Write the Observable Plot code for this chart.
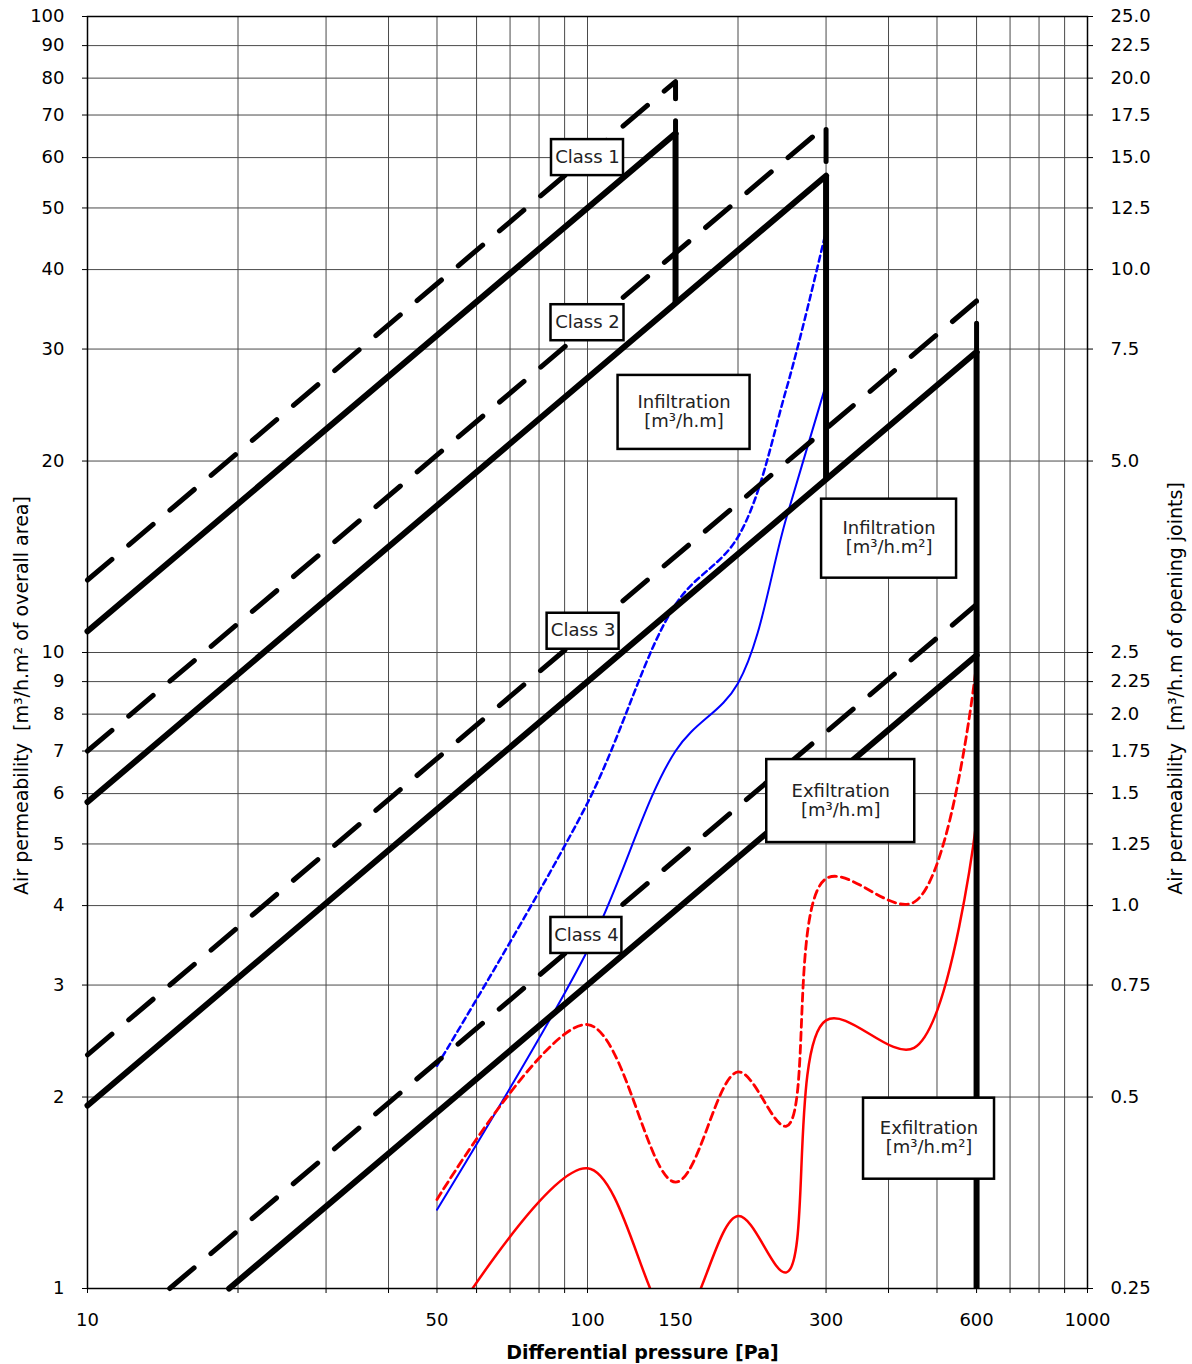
<!DOCTYPE html>
<html>
<head>
<meta charset="utf-8">
<script src="https://cdn.jsdelivr.net/npm/d3@7"></script>
<script src="https://cdn.jsdelivr.net/npm/@observablehq/plot@0.6"></script>
<style>
  body { margin: 0; background: #fff; }
</style>
</head>
<body>
<div id="chart"></div>
<script>
// ---- axis ticks ----
const xTickValues = [10, 50, 100, 150, 300, 600, 1000];
const xGridValues = [10, 20, 30, 40, 50, 60, 70, 80, 90, 100, 200, 300, 400, 500, 600, 700, 800, 900, 1000];
const yTickValues = [1, 2, 3, 4, 5, 6, 7, 8, 9, 10, 20, 30, 40, 50, 60, 70, 80, 90, 100];
const rightTickLabels = ["0.25", "0.5", "0.75", "1.0", "1.25", "1.5", "1.75", "2.0", "2.25", "2.5",
                         "5.0", "7.5", "10.0", "12.5", "15.0", "17.5", "20.0", "22.5", "25.0"];

// ---- class limit lines (endpoints: [Pa, value]) ----
const classNames = ["Class 1", "Class 2", "Class 3", "Class 4"];
const solidStart = [[10, 10.8], [10, 5.82], [10, 1.94], [19.2, 1]];
const solidEnd   = [[150, 65.5], [300, 56.2], [600, 29.7], [600, 9.9]];
const dashedStart = [[10, 13.0], [10, 7.0], [10, 2.33], [14.6, 1]];
const dashedEnd   = [[150, 79], [300, 67.4], [600, 35.7], [600, 11.9]];
// vertical drops at max test pressure: [Pa, from, to]
const verticalDrops = [[150, 65.5, 35.4], [300, 56.2, 18.7], [600, 29.7, 1]];

// ---- measured curves ----
const pressures = [50, 100, 150, 200, 250, 300, 450, 600];
const infiltrationJoint = [2.24, 5.8, 11.9, 15.2, 26, 46];          // blue dashed
const infiltrationArea  = [1.33, 3.4, 7.0, 8.95, 16.3, 26.4];       // blue solid
const exfiltrationJoint = [1.38, 2.60, 1.47, 2.19, 1.80, 4.41, 4.05, 9.6];   // red dashed
const exfiltrationArea  = [0.82, 1.545, 0.875, 1.30, 1.06, 2.64, 2.39, 5.44]; // red solid

// ---- annotation boxes (centre in data units, size in px) ----
const boxLabels = ["Class 1", "Class 2", "Class 3", "Class 4",
  "Infiltration\n[m³/h.m]", "Infiltration\n[m³/h.m²]", "Exfiltration\n[m³/h.m]", "Exfiltration\n[m³/h.m²]"];
const boxP = [100, 100, 98, 99.5, 156, 401, 321, 482];
const boxQ = [60, 33.0, 10.8, 3.59, 23.85, 15.1, 5.84, 1.72];
const boxW = [72, 73, 72, 71, 132, 135, 148, 131];
const boxH = [36, 36, 36, 36, 74, 79, 83, 81];

const leftTitle = "Air permeability  [m³/h.m² of overall area]";
const rightTitle = "Air permeability  [m³/h.m of opening joints]";
const xTitle = "Differential pressure [Pa]";

// ---- build tables ----
const solidRows = classNames.flatMap((c, i) => [
  {cls: c, p: solidStart[i][0], q: solidStart[i][1]},
  {cls: c, p: solidEnd[i][0], q: solidEnd[i][1]}
]);
const dashedRows = classNames.flatMap((c, i) => [
  {cls: c, p: dashedStart[i][0], q: dashedStart[i][1]},
  {cls: c, p: dashedEnd[i][0], q: dashedEnd[i][1]},
  {cls: c, p: solidEnd[i][0], q: solidEnd[i][1]}
]);
const series = (vals) => vals.map((q, i) => ({p: pressures[i], q}));
const rightMap = new Map(yTickValues.map((v, i) => [v, rightTickLabels[i]]));
const boxes = boxLabels.map((label, i) => ({label, p: boxP[i], q: boxQ[i], w: boxW[i], h: boxH[i]}));

const boxMarks = boxes.map(b => Plot.rect([b], {
  x1: "p", x2: "p", y1: "q", y2: "q",
  insetLeft: -b.w / 2, insetRight: -b.w / 2, insetTop: -b.h / 2, insetBottom: -b.h / 2,
  fill: "white", stroke: "black", strokeWidth: 2.5
}));

const chart = Plot.plot({
  width: 1192,
  height: 1364,
  marginLeft: 87,
  marginRight: 105,
  marginTop: 16,
  marginBottom: 76,
  x: {type: "log", domain: [10, 1000]},
  y: {type: "log", domain: [1, 100]},
  style: {fontFamily: "'DejaVu Sans', sans-serif", fontSize: "18px", color: "black", background: "white"},
  marks: [
    Plot.ruleX(xGridValues, {stroke: "#4a4a4a", strokeWidth: 1}),
    Plot.ruleY(yTickValues, {stroke: "#4a4a4a", strokeWidth: 1}),
    // measured curves
    Plot.line(series(infiltrationJoint), {x: "p", y: "q", curve: "catmull-rom", stroke: "#0000ff", strokeWidth: 2.5, strokeDasharray: "6,4", clip: true}),
    Plot.line(series(infiltrationArea), {x: "p", y: "q", curve: "catmull-rom", stroke: "#0000ff", strokeWidth: 2, clip: true}),
    Plot.line(series(exfiltrationJoint), {x: "p", y: "q", curve: "catmull-rom", stroke: "#ff0000", strokeWidth: 2.8, strokeDasharray: "8,5", clip: true}),
    Plot.line(series(exfiltrationArea), {x: "p", y: "q", curve: "catmull-rom", stroke: "#ff0000", strokeWidth: 2.5, clip: true}),
    // class limits
    Plot.line(dashedRows, {x: "p", y: "q", z: "cls", stroke: "black", strokeWidth: 5, strokeDasharray: "32,22", strokeLinecap: "round", strokeLinejoin: "round"}),
    Plot.line(solidRows, {x: "p", y: "q", z: "cls", stroke: "black", strokeWidth: 6, strokeLinejoin: "round"}),
    Plot.ruleX(verticalDrops, {x: d => d[0], y1: d => d[1], y2: d => d[2], stroke: "black", strokeWidth: 6}),
    // boxes
    ...boxMarks,
    Plot.text(boxes, {x: "p", y: "q", text: "label", fontSize: 18, lineHeight: 1.05, fill: "#222", dy: -1}),
    Plot.frame({stroke: "black", strokeWidth: 1.5}),
    // tick marks
    Plot.axisX({ticks: xGridValues, tickSize: 5, tickFormat: () => "", label: null}),
    Plot.axisY({anchor: "left", ticks: yTickValues, tickSize: 5, tickFormat: () => "", label: null}),
    Plot.axisY({anchor: "right", ticks: yTickValues, tickSize: 5, tickFormat: () => "", label: null}),
    // tick labels
    Plot.text(xTickValues, {x: d => d, frameAnchor: "bottom", dy: 32, text: d => String(d), fontSize: 18, textAnchor: "middle", lineAnchor: "middle"}),
    Plot.text(yTickValues, {y: d => d, frameAnchor: "left", dx: -23, text: d => String(d), fontSize: 18, textAnchor: "end", lineAnchor: "middle"}),
    Plot.text(yTickValues, {y: d => d, frameAnchor: "right", dx: 23, text: d => rightMap.get(d), fontSize: 18, textAnchor: "start", lineAnchor: "middle"}),
    // titles
    Plot.text([leftTitle], {frameAnchor: "left", text: d => d, rotate: -90, dx: -66, dy: 43, fontSize: 19, textAnchor: "middle", lineAnchor: "middle"}),
    Plot.text([rightTitle], {frameAnchor: "right", text: d => d, rotate: -90, dx: 88, dy: 36, fontSize: 19, textAnchor: "middle", lineAnchor: "middle"}),
    Plot.text([xTitle], {frameAnchor: "bottom", text: d => d, dx: 55, dy: 64, fontSize: 19, fontWeight: "bold", textAnchor: "middle", lineAnchor: "middle"})
  ]
});
document.getElementById("chart").append(chart);
</script>
</body>
</html>
